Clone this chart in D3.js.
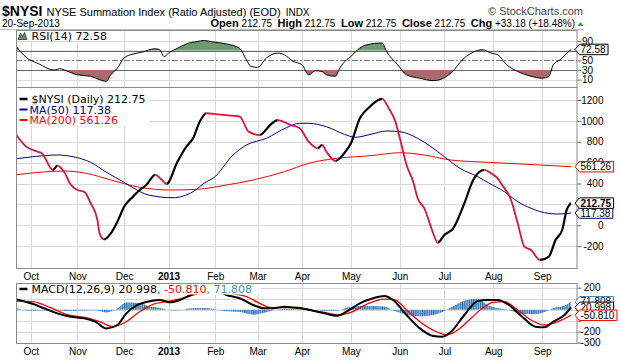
<!DOCTYPE html>
<html><head><meta charset="utf-8">
<script src="https://cdn.jsdelivr.net/npm/d3@7"></script>
<style>
body{margin:0;background:#fff}
svg{display:block}
text{font-family:"Liberation Sans",Arial,sans-serif}
.leg{font-family:"DejaVu Sans",Verdana,sans-serif;font-size:11px}
</style></head><body>
<svg id="c" width="620" height="360"></svg>
<script>
// ---------- calendar / categories ----------
const firstDay = "2012-09-20", lastDay = "2013-09-20";
const holidays = ["2012-10-29","2012-10-30","2012-11-22","2012-12-25","2013-01-01","2013-01-21","2013-02-18","2013-03-29","2013-05-27","2013-07-04","2013-09-02"];
const monthLabels = ["Oct","Nov","Dec","2013","Feb","Mar","Apr","May","Jun","Jul","Aug","Sep"];

// ---------- NYSI ----------
const nysiDates = ["2012-09-20","2012-09-27","2012-10-04","2012-10-08","2012-10-15","2012-10-17","2012-10-22","2012-10-25","2012-11-01","2012-11-06","2012-11-09","2012-11-14","2012-11-15","2012-11-19","2012-11-23","2012-11-28","2012-12-03","2012-12-07","2012-12-12","2012-12-17","2012-12-21","2012-12-27","2012-12-31","2013-01-08","2013-01-14","2013-01-17","2013-01-23","2013-01-28","2013-02-04","2013-02-12","2013-02-19","2013-02-25","2013-03-04","2013-03-11","2013-03-14","2013-03-22","2013-03-28","2013-04-04","2013-04-10","2013-04-12","2013-04-16","2013-04-22","2013-04-26","2013-05-01","2013-05-07","2013-05-13","2013-05-21","2013-05-24","2013-05-30","2013-06-03","2013-06-06","2013-06-11","2013-06-13","2013-06-18","2013-06-24","2013-06-26","2013-07-01","2013-07-08","2013-07-15","2013-07-19","2013-07-26","2013-07-31","2013-08-05","2013-08-07","2013-08-13","2013-08-16","2013-08-21","2013-08-26","2013-08-30","2013-09-06","2013-09-11","2013-09-16","2013-09-18","2013-09-20"];
const nysiValues = [881,753,705,690,530,571,513,390,338,322,211,51,-77,-134,-77,35,178,274,338,386,482,434,396,609,753,833,992,1073,1063,1050,1040,897,865,967,1008,960,929,801,737,769,705,616,690,785,1025,1126,1210,1121,992,833,578,418,259,163,-77,-167,-93,-29,211,434,530,498,450,386,242,19,-205,-237,-332,-300,-141,-45,147,212.75];

// ---------- MA(50) ----------
const ma50Dates = ["2012-09-20","2012-10-02","2012-10-17","2012-10-26","2012-11-09","2012-11-20","2012-12-03","2012-12-07","2012-12-18","2013-01-04","2013-01-17","2013-01-28","2013-01-31","2013-02-13","2013-02-22","2013-03-07","2013-03-20","2013-03-28","2013-04-04","2013-04-16","2013-04-26","2013-05-03","2013-05-14","2013-05-23","2013-06-03","2013-06-13","2013-06-21","2013-07-01","2013-07-11","2013-07-23","2013-07-30","2013-08-08","2013-08-16","2013-08-26","2013-09-04","2013-09-12","2013-09-20"];
const ma50Values = [635,657,673,657,603,508,412,360,290,264,322,418,450,673,769,833,935,977,977,944,872,843,872,903,897,833,753,657,546,466,405,322,226,163,121,108,117.38];

// ---------- MA(200) ----------
const ma200Dates = ["2012-09-20","2012-10-05","2012-10-22","2012-11-07","2012-11-23","2012-12-12","2013-01-03","2013-01-22","2013-02-08","2013-02-27","2013-03-19","2013-04-04","2013-04-23","2013-05-14","2013-06-03","2013-06-18","2013-07-05","2013-07-30","2013-08-22","2013-09-20"];
const ma200Values = [482,508,520,498,434,364,338,345,386,434,513,594,642,667,695,673,625,603,584,561.26];

// ---------- RSI(14) ----------
const rsiDates = ["2012-09-20","2012-09-25","2012-09-27","2012-10-02","2012-10-05","2012-10-12","2012-10-16","2012-10-18","2012-10-23","2012-11-01","2012-11-09","2012-11-15","2012-11-20","2012-11-23","2012-11-28","2012-12-03","2012-12-07","2012-12-13","2012-12-21","2012-12-26","2012-12-28","2013-01-02","2013-01-08","2013-01-14","2013-01-22","2013-01-25","2013-01-31","2013-02-08","2013-02-19","2013-02-22","2013-02-26","2013-03-01","2013-03-07","2013-03-14","2013-03-19","2013-03-25","2013-04-01","2013-04-04","2013-04-09","2013-04-12","2013-04-16","2013-04-22","2013-04-24","2013-04-29","2013-05-01","2013-05-06","2013-05-10","2013-05-21","2013-05-23","2013-05-31","2013-06-06","2013-06-14","2013-06-24","2013-06-27","2013-07-05","2013-07-15","2013-07-19","2013-07-25","2013-07-31","2013-08-05","2013-08-09","2013-08-16","2013-08-26","2013-09-03","2013-09-06","2013-09-10","2013-09-13","2013-09-19","2013-09-20"];
const rsiValues = [82,65,56,48,42,31,30,33,28.5,20,17,10,6.5,20,34,55,63,67,74,72,58,65,75,84,89,91,88,84,75,51,37.6,35.5,55,65,61.6,48,41,20,28.5,27,20,17,34,51,58,72,82,86,68.6,41,20,13,8,10,24,55,67,72,65,61.6,41,27,17,13,17,41,51,68.6,72.58];

// ---------- MACD(12,26,9) ----------
const macdDates = ["2012-09-20","2012-10-01","2012-10-09","2012-10-17","2012-10-25","2012-11-06","2012-11-13","2012-11-20","2012-11-28","2012-12-04","2012-12-11","2012-12-19","2012-12-26","2013-01-03","2013-01-09","2013-01-16","2013-01-25","2013-02-01","2013-02-08","2013-02-19","2013-02-27","2013-03-06","2013-03-12","2013-03-19","2013-03-25","2013-04-03","2013-04-15","2013-04-23","2013-04-29","2013-05-07","2013-05-15","2013-05-22","2013-05-29","2013-06-06","2013-06-14","2013-06-24","2013-06-28","2013-07-05","2013-07-15","2013-07-23","2013-07-29","2013-08-05","2013-08-12","2013-08-20","2013-08-28","2013-09-04","2013-09-10","2013-09-17","2013-09-20"];
const macdValues = [97,58,13,-33,-64,-78,-109,-170,-139,-33,43,79,88,67,88,134,185,175,134,104,43,13,13,27,20,4,-33,-55,-18,58,104,125,88,-48,-170,-239,-245,-200,-48,79,88,88,43,-64,-155,-160,-109,-48,20.998];

const signalDates = ["2012-09-20","2012-10-02","2012-10-12","2012-10-23","2012-11-07","2012-11-15","2012-11-26","2012-12-04","2012-12-12","2012-12-20","2012-12-31","2013-01-10","2013-01-23","2013-01-30","2013-02-12","2013-02-22","2013-03-04","2013-03-11","2013-03-19","2013-03-27","2013-04-04","2013-04-15","2013-04-23","2013-05-01","2013-05-10","2013-05-22","2013-05-30","2013-06-06","2013-06-14","2013-06-26","2013-07-02","2013-07-10","2013-07-18","2013-07-26","2013-08-01","2013-08-08","2013-08-15","2013-08-26","2013-09-04","2013-09-12","2013-09-20"];
const signalValues = [79,73,18,-42,-73,-109,-155,-109,-18,49,73,104,149,165,149,118,58,18,18,20,-3,-24,-48,-24,49,97,88,-3,-109,-205,-230,-185,-78,27,67,73,13,-94,-139,-109,-50.81];

const histDates = ["2012-09-20","2012-10-01","2012-10-12","2012-10-25","2012-11-06","2012-11-13","2012-11-20","2012-11-28","2012-12-04","2012-12-11","2012-12-19","2012-12-26","2013-01-03","2013-01-09","2013-01-16","2013-01-25","2013-02-01","2013-02-08","2013-02-19","2013-02-27","2013-03-06","2013-03-12","2013-03-19","2013-03-27","2013-04-04","2013-04-15","2013-04-23","2013-04-29","2013-05-07","2013-05-15","2013-05-22","2013-05-29","2013-06-06","2013-06-14","2013-06-24","2013-06-28","2013-07-05","2013-07-15","2013-07-23","2013-07-29","2013-08-05","2013-08-12","2013-08-20","2013-08-28","2013-09-04","2013-09-10","2013-09-17","2013-09-20"];
const histValues = [18,-10,-5,-12,-8,-5,-25,10,65,62,30,18,-6,-5,14,15,5,-15,-20,-45,-27,-5,9,5,3,-9,-7,17,33,34,28,-8,-45,-61,-49,-20,20,82,99,48,15,-2,-39,-40,-21,16,37,71.808];

// axis ticks (labels hidden where the value tags cover them)
const rsiTicks = [10,30,50,70,90];
const rsiHidden = [70];
const mainTicks = [-200,0,200,400,600,800,1000,1200];
const mainHidden = [200];
const macdTicks = [-300,-200,-100,0,100,200];
const macdHidden = [-100,0,100];

// ---------- build ----------
const parse = d3.utcParse("%Y-%m-%d"), fmt = d3.utcFormat("%Y-%m-%d");
const hol = new Set(holidays);
const tradingDays = [];
for (let d = parse(firstDay); d <= parse(lastDay); d = d3.utcDay.offset(d, 1)) {
  const wd = d.getUTCDay(), s = fmt(d);
  if (wd !== 0 && wd !== 6 && !hol.has(s)) tradingDays.push(s);
}
const dayIndex = new Map(tradingDays.map((s, i) => [s, i]));
const monthTicks = [];
tradingDays.forEach((s, i) => { if (i > 0 && s.slice(5, 7) !== tradingDays[i - 1].slice(5, 7)) monthTicks.push(i); });

const X0 = 16, X1 = 577;
const x = d3.scaleLinear().domain([0.4, 252.65]).range([X0, X1]);
const P = { rsi: {top: 30.5, bottom: 87.5}, main: {top: 87.5, bottom: 268.5}, macd: {top: 283.5, bottom: 343.5} };
const yR = d3.scaleLinear().domain([0, 100]).range([84.5, 36.2]);
const yM = d3.scaleLinear().domain([0, 1200]).range([225.3, 100]);
const yD = d3.scaleLinear().domain([-300, 200]).range([342.7, 287.7]);

const zip = (ds, vs) => ds.map((d, i) => ({i: dayIndex.get(d), v: vs[i]}));

const svg = d3.select("#c");
const defs = svg.append("defs");
function clipRect(id, x0, y0, w, h) {
  defs.append("clipPath").attr("id", id).append("rect").attr("x", x0).attr("y", y0).attr("width", w).attr("height", h);
}
clipRect("cRsi", X0, P.rsi.top, X1 - X0, P.rsi.bottom - P.rsi.top);
clipRect("cMain", X0, P.main.top, X1 - X0, P.main.bottom - P.main.top);
clipRect("cMacd", X0, P.macd.top, X1 - X0, P.macd.bottom - P.macd.top);

// header line
svg.append("line").attr("x1", 0).attr("x2", 583).attr("y1", 29.5).attr("y2", 29.5).attr("stroke", "#bbb");

// panels background grids
function panelGrid(p, yScale, hTicks) {
  const g = svg.append("g");
  g.selectAll("line.v").data(monthTicks).join("line")
    .attr("x1", d => Math.round(x(d)) + 0.5).attr("x2", d => Math.round(x(d)) + 0.5)
    .attr("y1", p.top).attr("y2", p.bottom).attr("stroke", "#d8d8d8");
  g.selectAll("line.h").data(hTicks).join("line")
    .attr("x1", X0).attr("x2", X1)
    .attr("y1", d => Math.round(yScale(d)) + 0.5).attr("y2", d => Math.round(yScale(d)) + 0.5)
    .attr("stroke", "#d8d8d8");
  return g;
}
panelGrid(P.rsi, yR, [10, 90]);
panelGrid(P.main, yM, mainTicks);
panelGrid(P.macd, yD, macdTicks);

// RSI reference lines
[70, 30].forEach(v => svg.append("line").attr("x1", X0).attr("x2", X1)
  .attr("y1", Math.round(yR(v)) + 0.5).attr("y2", Math.round(yR(v)) + 0.5).attr("stroke", "#666"));
svg.append("line").attr("x1", X0).attr("x2", X1)
  .attr("y1", Math.round(yR(50)) + 0.5).attr("y2", Math.round(yR(50)) + 0.5)
  .attr("stroke", "#777").attr("stroke-dasharray", "6,2,2,2");

// ---------- RSI ----------
const rsiData = zip(rsiDates, rsiValues);
clipRect("cAbove70", X0, P.rsi.top, X1 - X0, yR(70) - P.rsi.top);
clipRect("cBelow30", X0, yR(30), X1 - X0, P.rsi.bottom - yR(30));
const curve = d3.curveMonotoneX;
const gR = svg.append("g").attr("clip-path", "url(#cRsi)");
gR.append("g").attr("clip-path", "url(#cAbove70)").append("path").datum(rsiData)
  .attr("d", d3.area().curve(curve).x(d => x(d.i)).y0(yR(70)).y1(d => yR(d.v)))
  .attr("fill", "#6f9a6f");
gR.append("g").attr("clip-path", "url(#cBelow30)").append("path").datum(rsiData)
  .attr("d", d3.area().curve(curve).x(d => x(d.i)).y0(yR(30)).y1(d => yR(d.v)))
  .attr("fill", "#a86b6b");
gR.append("path").datum(rsiData)
  .attr("d", d3.line().curve(curve).x(d => x(d.i)).y(d => yR(d.v)))
  .attr("fill", "none").attr("stroke", "#000").attr("stroke-width", 1);

// ---------- MAIN ----------
const gM = svg.append("g").attr("clip-path", "url(#cMain)");
const lineM = d3.line().curve(curve).x(d => x(d.i)).y(d => yM(d.v));
gM.append("path").datum(zip(ma200Dates, ma200Values)).attr("d", lineM)
  .attr("fill", "none").attr("stroke", "#ff0000").attr("stroke-width", 1);
gM.append("path").datum(zip(ma50Dates, ma50Values)).attr("d", lineM)
  .attr("fill", "none").attr("stroke", "#00008b").attr("stroke-width", 1);
const nysi = zip(nysiDates, nysiValues);
const cUp = defs.append("clipPath").attr("id", "cUp");
const cDn = defs.append("clipPath").attr("id", "cDn");
for (let k = 0; k < nysi.length - 1; k++) {
  const a = nysi[k], b = nysi[k + 1];
  const target = b.v < a.v ? cDn : cUp;
  target.append("rect").attr("x", x(a.i)).attr("width", x(b.i) - x(a.i) + 0.01)
    .attr("y", P.main.top).attr("height", P.main.bottom - P.main.top);
}
gM.append("g").attr("clip-path", "url(#cUp)").append("path").datum(nysi).attr("d", lineM)
  .attr("fill", "none").attr("stroke", "#000").attr("stroke-width", 2.2);
gM.append("g").attr("clip-path", "url(#cDn)").append("path").datum(nysi).attr("d", lineM)
  .attr("fill", "none").attr("stroke", "#dc143c").attr("stroke-width", 1.8);

// ---------- MACD ----------
const pat = defs.append("pattern").attr("id", "hp").attr("patternUnits", "userSpaceOnUse")
  .attr("x", x(0)).attr("y", 0).attr("width", x(1) - x(0)).attr("height", 20);
pat.append("rect").attr("width", x(1) - x(0)).attr("height", 20).attr("fill", "#8dbce3");
pat.append("rect").attr("width", 1.1).attr("height", 20).attr("fill", "#2f6ea6");
const gD = svg.append("g").attr("clip-path", "url(#cMacd)");
gD.append("path").datum(zip(histDates, histValues))
  .attr("d", d3.area().curve(curve).x(d => x(d.i)).y0(yD(0)).y1(d => yD(d.v)))
  .attr("fill", "url(#hp)");
const lineD = d3.line().curve(curve).x(d => x(d.i)).y(d => yD(d.v));
gD.append("path").datum(zip(signalDates, signalValues)).attr("d", lineD)
  .attr("fill", "none").attr("stroke", "#ff0000").attr("stroke-width", 1.3);
gD.append("path").datum(zip(macdDates, macdValues)).attr("d", lineD)
  .attr("fill", "none").attr("stroke", "#000").attr("stroke-width", 2);

// ---------- panel frames ----------
Object.values(P).forEach(p => {
  svg.append("rect").attr("x", X0 + 0.5).attr("y", p.top).attr("width", X1 - X0 - 0.5).attr("height", p.bottom - p.top)
    .attr("fill", "none").attr("stroke", "#8a8a8a");
});

// ---------- y axes ----------
function yAxis(scale, ticks, hidden, anchorX) {
  const g = svg.append("g").attr("transform", `translate(${X1 + 0.5},0)`)
    .call(d3.axisRight(scale).tickValues(ticks).tickSize(4).tickFormat(d => hidden.includes(d) ? "" : String(d)));
  g.select(".domain").remove();
  g.selectAll(".tick line").attr("stroke", "#666");
  g.selectAll("text").attr("x", anchorX).attr("text-anchor", "end")
    .attr("fill", "#000").style("font-family", "'Liberation Sans',Arial,sans-serif").style("font-size", "10px");
}
yAxis(yR, rsiTicks, rsiHidden, 15.5);
yAxis(yM, mainTicks, mainHidden, 26);
yAxis(yD, macdTicks, macdHidden, 23);

// ---------- x axes ----------
function xAxis(yPos) {
  const g = svg.append("g").attr("transform", `translate(0,${yPos})`)
    .call(d3.axisBottom(x).tickValues(monthTicks).tickSize(0).tickPadding(4).tickFormat((d, i) => monthLabels[i]));
  g.select(".domain").remove();
  g.selectAll("text").attr("fill", "#000").style("font-family", "'Liberation Sans',Arial,sans-serif").style("font-size", "10px")
    .attr("font-weight", (d, i) => monthLabels[i] === "2013" ? "bold" : null);
}
xAxis(P.main.bottom);
xAxis(P.macd.bottom);

// ---------- value tags ----------
function tag(y, txt, color, bold) {
  const g = svg.append("g");
  const t = g.append("text").attr("x", 580.5).attr("y", y).attr("dy", "0.35em")
    .attr("font-size", 10).attr("font-weight", bold ? "bold" : "normal").attr("fill", "#000").text(txt);
  const w = t.node().getComputedTextLength();
  const x0 = 575, h = 10.5;
  g.insert("path", "text")
    .attr("d", `M${x0},${y}L${x0 + 4.5},${y - h / 2}H${x0 + 8 + w}V${y + h / 2}H${x0 + 4.5}Z`)
    .attr("fill", "#fff").attr("stroke", color).attr("stroke-width", 1);
}
tag(yR(72.58), "72.58", "#000", false);
tag(yM(561.26), "561.26", "#ff0000", false);
tag(yM(117.38), "117.38", "#00008b", false);
tag(yM(212.75), "212.75", "#000", true);
tag(yD(71.808), "71.808", "#3a7fc0", false);
tag(yD(20.998), "20.998", "#000", false);
tag(yD(-50.81), "-50.810", "#ff0000", false);

// ---------- legends ----------
// RSI
svg.append("rect").attr("x", X0 + 1).attr("y", P.rsi.top + 0.5).attr("width", 96).attr("height", 9.5).attr("fill", "#fff");
svg.append("path").attr("d", "M18,39.5L20.5,33L22.5,36.5L24.5,32.5L27,39.5Z").attr("fill", "#5f8f5f").attr("stroke", "#222").attr("stroke-width", 0.7);
svg.append("text").attr("class", "leg").attr("x", 31.5).attr("y", 39.5).text("RSI(14) 72.58");
// main
svg.append("rect").attr("x", X0 + 1).attr("y", P.main.top + 1).attr("width", 132).attr("height", 37).attr("fill", "#fff");
const legM = [["$NYSI (Daily) 212.75", "#000", 2.5, 103, 31.5], ["MA(50) 117.38", "#00008b", 2, 113.5, 29.5], ["MA(200) 561.26", "#ff0000", 2, 124, 29.5]];
legM.forEach(([t, c, sw, yy, tx]) => {
  svg.append("line").attr("x1", 19.5).attr("x2", 27.5).attr("y1", yy - 4).attr("y2", yy - 4).attr("stroke", c).attr("stroke-width", sw);
  svg.append("text").attr("class", "leg").attr("x", tx).attr("y", yy).attr("fill", c).text(t);
});
// MACD
svg.append("rect").attr("x", X0 + 1).attr("y", P.macd.top + 1).attr("width", 244).attr("height", 10).attr("fill", "#fff");
svg.append("line").attr("x1", 19.5).attr("x2", 27.5).attr("y1", 289).attr("y2", 289).attr("stroke", "#000").attr("stroke-width", 2.5);
const lt = svg.append("text").attr("class", "leg").attr("x", 31.5).attr("y", 293);
lt.append("tspan").attr("fill", "#000").text("MACD(12,26,9) 20.998");
lt.append("tspan").attr("fill", "#ff0000").text(", -50.810");
lt.append("tspan").attr("fill", "#3a8fd0").text(", 71.808");

// ---------- header ----------
const h1 = svg.append("text").attr("x", 2).attr("y", 16);
h1.append("tspan").attr("font-size", 14).attr("font-weight", "bold").text("$NYSI");
h1.append("tspan").attr("font-size", 11).attr("dx", 4).text("NYSE Summation Index (Ratio Adjusted) (EOD)");
h1.append("tspan").attr("font-size", 10).attr("dx", 5).text("INDX");
svg.append("text").attr("x", 583).attr("y", 15).attr("text-anchor", "end").attr("font-size", 11).attr("fill", "#444").text("\u00A9 StockCharts.com");
svg.append("text").attr("x", 2).attr("y", 27).attr("font-size", 10).text("20-Sep-2013");
const h2 = svg.append("text").attr("x", 575).attr("y", 27).attr("text-anchor", "end").attr("font-size", 10).style("white-space", "pre");
[["Open", true], [" 212.75  ", false], ["High", true], [" 212.75  ", false], ["Low", true], [" 212.75  ", false],
 ["Close", true], [" 212.75  ", false], ["Chg", true], [" +33.18 (+18.48%)", false]].forEach(([t, b]) => {
  h2.append("tspan").attr("font-weight", b ? "bold" : "normal").attr("font-size", b ? 11 : 10).text(t);
});
svg.append("path").attr("d", "M577.5,26L580.5,22L583.5,26Z").attr("fill", "#3a9a3a");
</script>
</body></html>
